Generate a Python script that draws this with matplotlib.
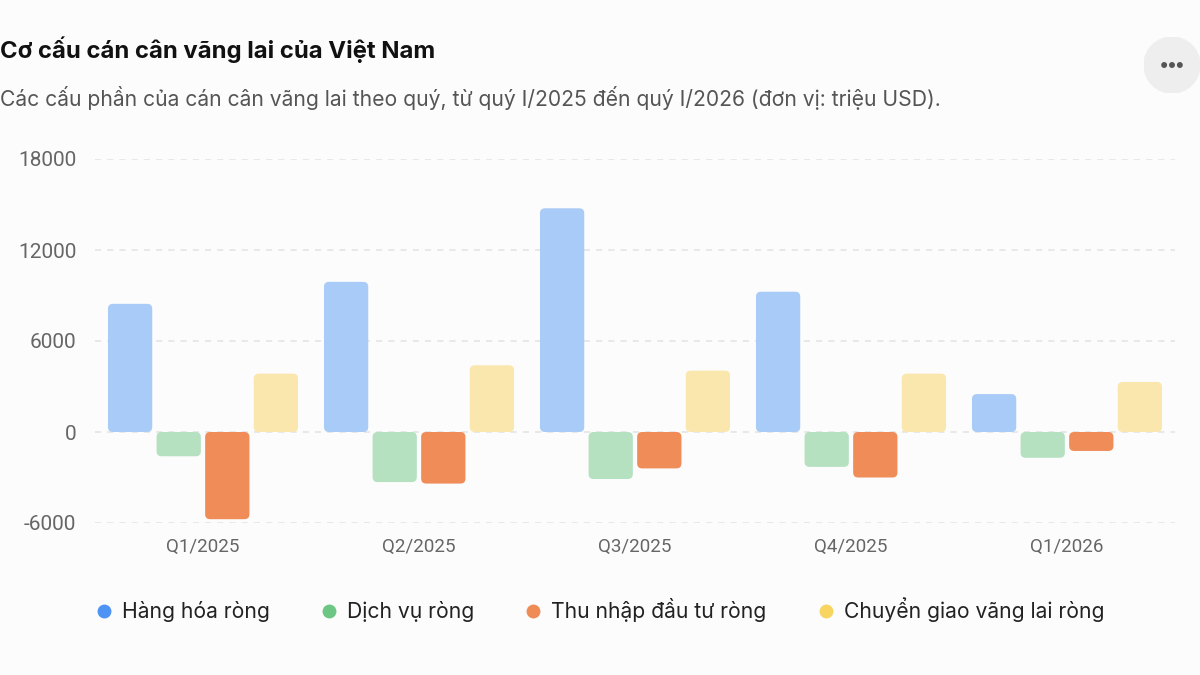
import matplotlib.pyplot as plt
import numpy as np
from matplotlib.patches import FancyBboxPatch, Circle
from matplotlib.lines import Line2D

plt.rcParams['font.family'] = ['Inter', 'DejaVu Sans']

# du lieu (trieu USD)
quy = ["Q1/2025", "Q2/2025", "Q3/2025", "Q4/2025", "Q1/2026"]
hang_hoa = [8450, 9900, 14750, 9250, 2500]
dich_vu = [-1600, -3300, -3100, -2300, -1700]
thu_nhap = [-5750, -3400, -2400, -3000, -1250]
chuyen_giao = [3850, 4400, 4050, 3850, 3300]
ten = ["Hàng hóa ròng", "Dịch vụ ròng", "Thu nhập đầu tư ròng", "Chuyển giao vãng lai ròng"]
yticks = [-6000, 0, 6000, 12000, 18000]

mau_dam = ["#4f94f4", "#6cc784", "#ef8b55", "#f8d560"]
mau_cot = ["#a9cbf8", "#b6e1c1", "#ef8c58", "#fae7ae"]
nen = "#fcfcfc"

fig = plt.figure(figsize=(12, 6.75), dpi=100, facecolor=nen)
ax = fig.add_axes([95/1200, 1-523/675, 1080/1200, 364/675], facecolor=nen)

x = np.arange(len(quy))
buoc = 0.225
rong = 0.205
ax.set_xlim(-0.5, len(quy)-0.5)
ax.set_ylim(-6000, 18000)

# ty le px de bo goc
px_x = (len(quy)) / 1080
px_y = 24000 / 364
bo_goc = 5 * px_x

for i, s in enumerate([hang_hoa, dich_vu, thu_nhap, chuyen_giao]):
    bars = ax.bar(x + (i-1.5)*buoc, s, rong, color=mau_cot[i])
    for b in bars:
        bx, by, bw, bh = b.get_x(), b.get_y(), b.get_width(), b.get_height()
        y0 = min(by, by+bh)
        p = FancyBboxPatch((bx, y0), bw, abs(bh),
                           boxstyle=f"round,pad=0,rounding_size={bo_goc}",
                           mutation_aspect=px_y/px_x,
                           facecolor=mau_cot[i], edgecolor="none", zorder=3)
        ax.add_patch(p)
        b.remove()

ax.set_yticks(yticks)
ax.set_yticklabels([str(v) for v in yticks], family=["Roboto", "DejaVu Sans"])
ax.set_xticks(x)
ax.set_xticklabels(quy, family=["Roboto", "DejaVu Sans"])
ax.tick_params(length=0, labelsize=13.5, labelcolor="#666666")
ax.tick_params(axis='y', pad=13.5, labelsize=15)
ax.tick_params(axis='x', pad=11)
ax.grid(axis='y', color="#e2e2e2", linestyle=(0, (4, 4)), linewidth=1.1, zorder=0)
ax.set_axisbelow(True)
for sp in ax.spines.values():
    sp.set_visible(False)

fig.text(0.0, 1-50/675, "Cơ cấu cán cân vãng lai của Việt Nam", fontsize=17.2,
         fontweight="bold", color="#111111", va="center", ha="left")
fig.text(0.0, 1-98/675,
         "Các cấu phần của cán cân vãng lai theo quý, từ quý I/2025 đến quý I/2026 (đơn vị: triệu USD).",
         fontsize=15.2, color="#555555", va="center", ha="left")

# nut ba cham
nut = fig.add_axes([1144/1200, 1-93/675, 56/1200, 56/675])
nut.set_xlim(-1, 1)
nut.set_ylim(-1, 1)
nut.set_aspect("equal")
nut.axis("off")
nut.add_patch(Circle((0, 0), 1, color="#eeeeee"))
for dx in [-0.28, 0, 0.28]:
    nut.add_patch(Circle((dx, 0), 0.08, color="#555555"))

handles = [Line2D([], [], marker="o", linestyle="none", markersize=10,
                  markerfacecolor=c, markeredgecolor="none") for c in mau_dam]
fig.legend(handles, ten, loc="center", bbox_to_anchor=(0.5, 1-610/675), ncol=4,
           frameon=False, fontsize=15.2, handlelength=0.8, handletextpad=0.45,
           columnspacing=2.4, labelcolor="#222222")

fig.savefig("out.png", dpi=100, facecolor=nen)
